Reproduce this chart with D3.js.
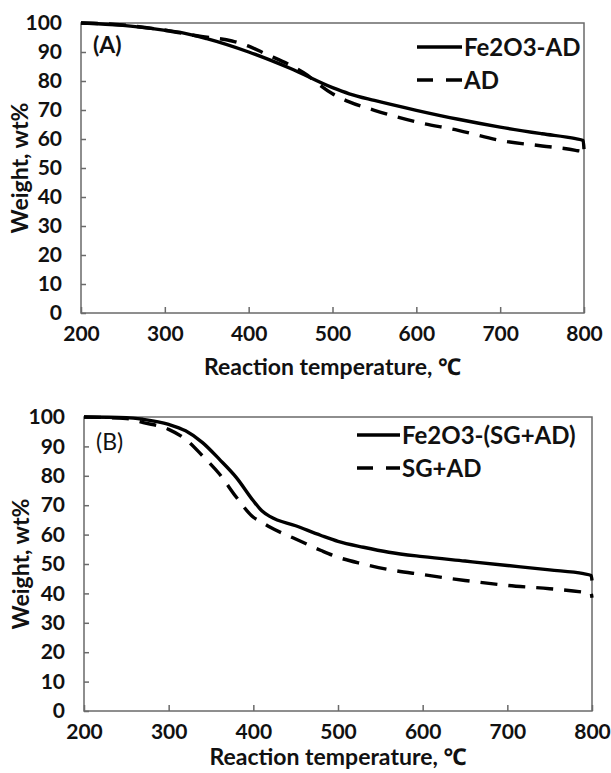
<!DOCTYPE html>
<html lang="en">
  <head>
    <meta charset="utf-8" />
    <title>TGA curves</title>
    <script src="https://d3js.org/d3.v7.min.js"></script>
    <style type="text/css">
      body {
        margin: 0;
        background: white;
      }
      text {
        font-family: Lato, "Noto Sans", sans-serif;
        font-weight: 700;
        fill: #111;
      }
    </style>
  </head>
  <body>
    <script type="text/javascript">
      // Panel A data
      var tempA = [200, 250, 300, 320, 350, 400, 450, 500, 520, 550, 600, 650, 700, 750, 790, 799, 800];
      var fe2o3AD = [100, 99.2, 97.5, 96.7, 94.6, 90, 84.3, 77.7, 75.6, 73.3, 69.9, 66.8, 64.1, 61.8, 60.1, 59.5, 56.5];
      var tempA2 = [200, 250, 300, 340, 380, 400, 420, 450, 470, 480, 500, 520, 550, 600, 650, 700, 750, 790, 799, 800];
      var adOnly = [100, 99.3, 97.5, 95.5, 93.8, 92, 89.4, 85.4, 82, 79.7, 75.6, 72.8, 69.9, 65.9, 63, 59.5, 57.6, 56.1, 55.5, 53.2];

      // Panel B data
      var tempB = [200, 250, 270, 300, 320, 340, 360, 380, 400, 410, 420, 450, 480, 500, 530, 560, 600, 650, 700, 750, 790, 799, 800];
      var fe2o3SGAD = [100, 99.8, 99.2, 97.5, 95.3, 91.3, 85.6, 79.4, 71.5, 68.1, 66.1, 63, 59.7, 57.7, 55.7, 54, 52.5, 51, 49.5, 48, 46.7, 46.1, 44.4];
      var sgAD = [100, 99.5, 98.1, 95.8, 92.4, 86.8, 80.6, 72.7, 65.9, 64.2, 62.5, 58.5, 54.6, 52.3, 50, 48.1, 46.4, 44.4, 42.7, 41.6, 40.4, 40, 38.5];

      var xTicks = [200, 300, 400, 500, 600, 700, 800];
      var yTicks = [0, 10, 20, 30, 40, 50, 60, 70, 80, 90, 100];

      var svg = d3
        .select("body")
        .append("svg")
        .attr("width", 611)
        .attr("height", 773);

      function drawPanel(p) {
        var x = d3.scaleLinear().domain([200, 800]).range([p.left, p.right]);
        var y = d3.scaleLinear().domain([0, 100]).range([p.bottom, p.top]);
        var g = svg.append("g");

        // frame
        g.append("rect")
          .attr("x", p.left)
          .attr("y", p.top)
          .attr("width", p.right - p.left)
          .attr("height", p.bottom - p.top)
          .attr("fill", "none")
          .attr("stroke", "#6a6a6a")
          .attr("stroke-width", 1.5);

        // axes with inward ticks
        var xAxis = g
          .append("g")
          .attr("transform", "translate(0," + p.bottom + ")")
          .call(d3.axisBottom(x).tickValues(xTicks).tickSizeInner(-6).tickSizeOuter(0).tickPadding(13));
        var yAxis = g
          .append("g")
          .attr("transform", "translate(" + p.left + ",0)")
          .call(d3.axisLeft(y).tickValues(yTicks).tickSizeInner(-5).tickSizeOuter(0).tickPadding(19));
        [xAxis, yAxis].forEach(function (a) {
          a.select(".domain").remove();
          a.selectAll("line").attr("stroke", "#6a6a6a").attr("stroke-width", 1.5);
          a.selectAll("text").style("font-size", "21px").attr("fill", "#111");
        });
        xAxis.selectAll("text").attr("dy", "0.71em");

        var line = d3
          .line()
          .x(function (d) { return x(d[0]); })
          .y(function (d) { return y(d[1]); })
          .curve(d3.curveMonotoneX);

        p.series.forEach(function (s) {
          var pts = s.t.map(function (t, i) { return [t, s.v[i]]; });
          g.append("path")
            .datum(pts)
            .attr("d", line)
            .attr("fill", "none")
            .attr("stroke", "#000")
            .attr("stroke-width", 3.4)
            .attr("stroke-dasharray", s.dash ? "17,11" : null);
        });

        // legend
        p.series.forEach(function (s, i) {
          var ly = p.legY + i * 33;
          g.append("line")
            .attr("x1", p.legX)
            .attr("x2", p.legX + p.legLen)
            .attr("y1", ly)
            .attr("y2", ly)
            .attr("stroke", "#000")
            .attr("stroke-width", 3.4)
            .attr("stroke-dasharray", s.dash ? "16,13" : null);
          g.append("text")
            .attr("x", p.legX + p.legLen + 2)
            .attr("y", ly)
            .attr("dy", "0.36em")
            .style("font-size", "24px")
            .text(s.name);
        });

        g.append("text")
          .attr("x", p.left + 12)
          .attr("y", p.labelY)
          .attr("dy", "0.36em")
          .style("font-size", "23px")
          .style("font-weight", p.labelWeight)
          .text(p.label);

        g.append("text")
          .attr("x", (p.left + p.right) / 2)
          .attr("y", p.xTitleY)
          .attr("dy", "0.36em")
          .attr("text-anchor", "middle")
          .style("font-size", "23px")
          .text("Reaction temperature, \u2103");

        g.append("text")
          .attr("transform", "translate(" + p.yTitleX + "," + (p.top + p.bottom) / 2 + ") rotate(-90)")
          .attr("dy", "0.36em")
          .attr("text-anchor", "middle")
          .style("font-size", "23px")
          .text("Weight, wt%");
      }

      drawPanel({
        left: 81, right: 584, top: 23, bottom: 313,
        label: "(A)", labelY: 45, labelWeight: 700,
        legX: 417, legY: 47, legLen: 45,
        xTitleY: 367, yTitleX: 20,
        series: [
          { name: "Fe2O3-AD", t: tempA, v: fe2o3AD, dash: false },
          { name: "AD", t: tempA2, v: adOnly, dash: true }
        ]
      });

      drawPanel({
        left: 84, right: 592, top: 417, bottom: 711,
        label: "(B)", labelY: 442, labelWeight: 400,
        legX: 357, legY: 435, legLen: 43,
        xTitleY: 757, yTitleX: 21,
        series: [
          { name: "Fe2O3-(SG+AD)", t: tempB, v: fe2o3SGAD, dash: false },
          { name: "SG+AD", t: tempB, v: sgAD, dash: true }
        ]
      });
    </script>
  </body>
</html>
